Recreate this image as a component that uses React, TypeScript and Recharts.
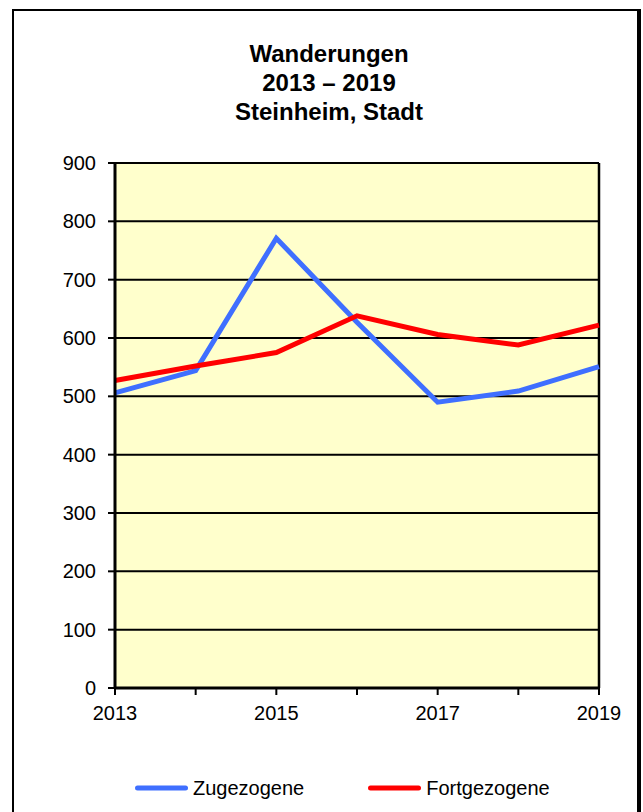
import React from 'react';
import { LineChart, Line, XAxis, YAxis, CartesianGrid, Legend, ReferenceLine } from 'recharts';

const years = [2013, 2014, 2015, 2016, 2017, 2018, 2019];
const zugezogene = [506, 544, 771, 627, 490, 509, 551];
const fortgezogene = [527, 552, 575, 638, 606, 588, 622];
const yTicks = [0, 100, 200, 300, 400, 500, 600, 700, 800, 900];
const xTickLabels = [2013, 2015, 2017, 2019];
const titleLines = ['Wanderungen', '2013 – 2019', 'Steinheim, Stadt'];
const seriesNames = ['Zugezogene', 'Fortgezogene'];
const seriesColors = ['#3F6FFF', '#FF0000'];

const data = years.map((year, i) => ({
  year,
  [seriesNames[0]]: zugezogene[i],
  [seriesNames[1]]: fortgezogene[i],
}));

const FONT = '"Liberation Sans", Arial, Helvetica, sans-serif';

const renderLegend = (props: any) => {
  const payload = [...(props.payload || [])].sort(
    (a: any, b: any) => seriesNames.indexOf(a.value) - seriesNames.indexOf(b.value)
  );
  return (
    <div
      style={{
        display: 'flex',
        alignItems: 'center',
        height: 24,
        paddingLeft: 135,
        fontFamily: FONT,
        fontSize: 20,
        color: '#000',
      }}
    >
      {payload.map((entry: any, i: number) => (
        <div
          key={entry.value}
          style={{ display: 'flex', alignItems: 'center', marginLeft: i === 0 ? 0 : 64 }}
        >
          <svg width={53} height={10} style={{ display: 'block' }}>
            <line x1={2.5} y1={5} x2={50.5} y2={5} stroke={entry.color} strokeWidth={5} strokeLinecap="round" />
          </svg>
          <span style={{ marginLeft: 5, lineHeight: '24px' }}>{entry.value}</span>
        </div>
      ))}
    </div>
  );
};

export default function App() {
  return (
    <div style={{ position: 'absolute', left: 0, top: 0, width: 643, height: 812, overflow: 'hidden', background: '#fff' }}>
      <div
        style={{
          position: 'absolute',
          left: 12,
          top: 9,
          width: 629,
          height: 840,
          boxSizing: 'border-box',
          borderLeft: '2px solid #000',
          borderTop: '2px solid #000',
          borderRight: '4px solid #000',
          background: '#fff',
        }}
      />
      <div
        style={{
          position: 'absolute',
          left: 129,
          top: 39,
          width: 400,
          textAlign: 'center',
          fontFamily: FONT,
          fontWeight: 'bold',
          fontSize: 24,
          lineHeight: '29px',
          color: '#000',
        }}
      >
        {titleLines.map((t) => (
          <div key={t}>{t}</div>
        ))}
      </div>
      <div style={{ position: 'absolute', left: 0, top: 0 }}>
        <LineChart
          width={643}
          height={812}
          data={data}
          margin={{ top: 163, right: 44, bottom: 84, left: 55 }}
        >
          <CartesianGrid vertical={false} stroke="#000" strokeWidth={2} fill="#FFFFCC" fillOpacity={1} />
          <XAxis
            dataKey="year"
            type="number"
            domain={[2013, 2019]}
            ticks={years}
            interval={0}
            height={40}
            tickSize={7}
            tickMargin={11}
            tickFormatter={(v: number) => (xTickLabels.includes(v) ? String(v) : '')}
            tick={{ fill: '#000', fontSize: 20, fontFamily: FONT }}
            tickLine={{ stroke: '#000', strokeWidth: 2 }}
            axisLine={{ stroke: '#000', strokeWidth: 3 }}
          />
          <YAxis
            type="number"
            domain={[0, 900]}
            ticks={yTicks}
            interval={0}
            width={60}
            tickSize={7}
            tickMargin={12}
            tick={{ fill: '#000', fontSize: 20, fontFamily: FONT }}
            tickLine={{ stroke: '#000', strokeWidth: 2 }}
            axisLine={{ stroke: '#000', strokeWidth: 3 }}
          />
          <ReferenceLine x={2019} stroke="#000" strokeWidth={2.5} />
          <Line
            type="linear"
            dataKey={seriesNames[0]}
            stroke={seriesColors[0]}
            strokeWidth={5}
            dot={false}
            activeDot={false}
            isAnimationActive={false}
          />
          <Line
            type="linear"
            dataKey={seriesNames[1]}
            stroke={seriesColors[1]}
            strokeWidth={5}
            dot={false}
            activeDot={false}
            isAnimationActive={false}
          />
          <Legend
            layout="horizontal"
            verticalAlign="middle"
            align="center"
            content={renderLegend}
            wrapperStyle={{ top: 776, left: 0, width: 643, height: 24 }}
          />
        </LineChart>
      </div>
    </div>
  );
}
